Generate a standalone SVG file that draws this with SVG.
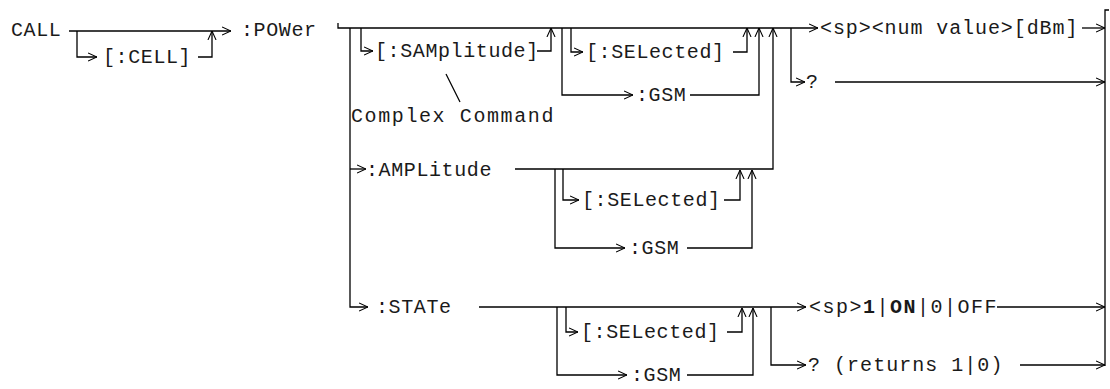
<svg xmlns="http://www.w3.org/2000/svg" width="1110" height="389" viewBox="0 0 1110 389">
<style>
  text { font-family: "Liberation Mono", "DejaVu Sans Mono", monospace; font-size: 20px; letter-spacing: 0.6px; fill: #1a1a1a; }
  .b { font-weight: bold; }
  .c path { fill: none; stroke: #000; stroke-width: 1.3; }
  .c .m { marker-end: url(#a); }
</style>
<defs>
  <marker id="a" viewBox="0 0 10 10" refX="10" refY="5" markerWidth="9" markerHeight="10" markerUnits="userSpaceOnUse" orient="auto">
    <path d="M0,0.5 L10,5 L0,9.5" fill="none" stroke="#000" stroke-width="1.2"/>
  </marker>
</defs>
<rect width="1110" height="389" fill="#fff"/>
<g id="connectors" class="c">
  <path class="m" d="M69,31 H231"/>
  <path class="m" d="M77,31 V57 H97"/>
  <path class="m" d="M198,57 H212 V31"/>
  <path class="m" d="M338,23 V28 H818"/>
  <path class="m" d="M350,28 V307 H368"/>
  <path class="m" d="M350,169 H366"/>
  <path class="m" d="M361,28 V51 H373"/>
  <path class="m" d="M537,51 H551 V28"/>
  <path class="m" d="M562,28 V95 H633"/>
  <path class="m" d="M690,95 H759 V28"/>
  <path class="m" d="M571,28 V52 H583"/>
  <path class="m" d="M733,52 H747 V28"/>
  <path class="m" d="M515,169 H773 V28"/>
  <path class="m" d="M791,28 V82 H805"/>
  <path class="m" d="M835,82 H1105"/>
  <path class="m" d="M1082,28 H1105"/>
  <path d="M1109,10 H1105 V366"/>
  <path class="m" d="M563,169 V200 H579"/>
  <path class="m" d="M724,200 H740 V170"/>
  <path class="m" d="M555,169 V248 H625"/>
  <path class="m" d="M687,248 H752 V170"/>
  <path class="m" d="M479,307 H806"/>
  <path class="m" d="M566,307 V332 H578"/>
  <path class="m" d="M727,332 H742 V308"/>
  <path class="m" d="M557,307 V375 H627"/>
  <path class="m" d="M687,375 H753 V308"/>
  <path class="m" d="M771,307 V365 H806"/>
  <path class="m" d="M997,307 H1105"/>
  <path class="m" d="M1020,365 H1105"/>
  <path d="M446,74 L460,102"/>
</g>
<g id="n-call"><text x="11" y="36">CALL</text></g>
<g id="n-cell"><text x="103" y="63">[:CELL]</text></g>
<g id="n-power"><text x="241" y="36">:POWer</text></g>
<g id="n-samplitude"><text x="375" y="57">[:SAMplitude]</text></g>
<g id="n-complex"><text x="351" y="122" textLength="203" lengthAdjust="spacing">Complex Command</text></g>
<g id="n-selected1"><text x="586" y="58">[:SELected]</text></g>
<g id="n-gsm1"><text x="636" y="101">:GSM</text></g>
<g id="n-numvalue"><text x="820" y="34" textLength="258" lengthAdjust="spacing">&lt;sp&gt;&lt;num value&gt;[dBm]</text></g>
<g id="n-query1"><text x="806" y="88">?</text></g>
<g id="n-amplitude"><text x="366" y="176">:AMPLitude</text></g>
<g id="n-selected2"><text x="582" y="206">[:SELected]</text></g>
<g id="n-gsm2"><text x="629" y="254">:GSM</text></g>
<g id="n-state"><text x="376" y="313">:STATe</text></g>
<g id="n-selected3"><text x="581" y="338">[:SELected]</text></g>
<g id="n-gsm3"><text x="631" y="381">:GSM</text></g>
<g id="n-onoff"><text x="809" y="313" textLength="188" lengthAdjust="spacing">&lt;sp&gt;<tspan class="b">1</tspan>|<tspan class="b">ON</tspan>|0|OFF</text></g>
<g id="n-query2"><text x="808" y="371" textLength="195" lengthAdjust="spacing">? (returns 1|0)</text></g>
</svg>
